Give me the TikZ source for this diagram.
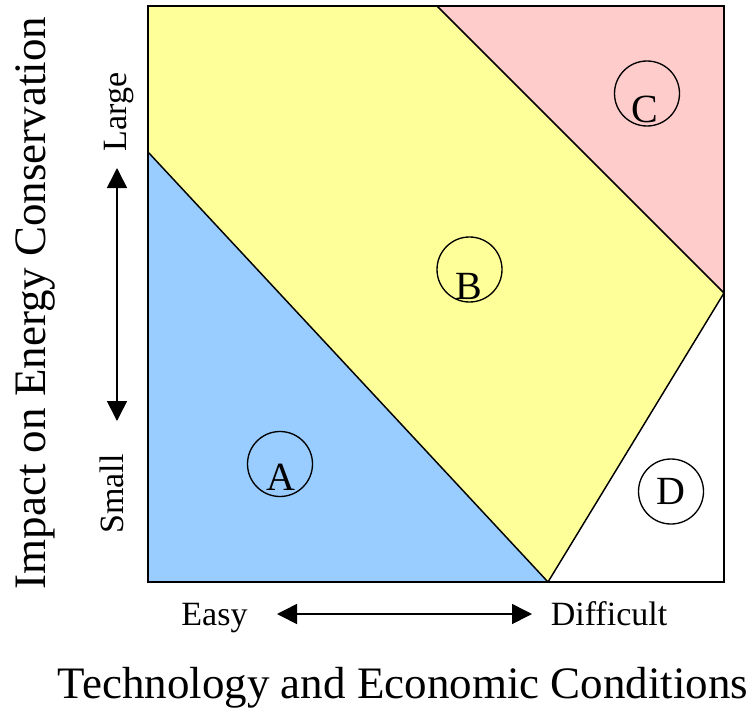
\documentclass[tikz,border=0pt]{standalone}
\usepackage{fontspec}
\setmainfont{Liberation Serif}
\usetikzlibrary{arrows.meta}
\definecolor{zoneA}{RGB}{153,204,255}
\definecolor{zoneB}{RGB}{255,255,153}
\definecolor{zoneC}{RGB}{255,204,204}
\tikzset{every picture/.style={line width=0.75pt},
  zone edge/.style={draw=black,line width=1.1pt},
  frame/.style={draw=black,line width=1.6pt},
  ring/.style={draw,circle,line width=1pt,minimum size=48.75pt,inner sep=0pt},
  letter/.style={font=\fontsize{30}{30}\selectfont,inner sep=0pt},
  axis label/.style={font=\fontsize{25.5}{25.5}\selectfont,inner sep=0pt},
  axis title/.style={font=\fontsize{33.75}{33.75}\selectfont,inner sep=0pt},
  both ways/.style={{Triangle[length=15pt,width=15pt]}-{Triangle[length=15pt,width=15pt]},line width=1.2pt}}

\begin{document}
\begin{tikzpicture}[x=0.75pt,y=0.75pt,yscale=-1,xscale=1]
\useasboundingbox (0,0) rectangle (756,710);

%Corners of the chart
\coordinate (tl) at (148,6);
\coordinate (tr) at (724,6);
\coordinate (br) at (724,582);
\coordinate (bl) at (148,582);
%Cut points of the zones
\coordinate (leftCut) at (148,152);
\coordinate (topCut) at (437,6);
\coordinate (rightCut) at (724,293);
\coordinate (bottomCut) at (548,582);

%Shape: Zones
\fill[zoneA] (leftCut) -- (bottomCut) -- (bl) -- cycle;
\fill[zoneB] (tl) -- (topCut) -- (rightCut) -- (bottomCut) -- (leftCut) -- cycle;
\fill[zoneC] (topCut) -- (tr) -- (rightCut) -- cycle;
\draw[zone edge] (leftCut) -- (bottomCut) -- (rightCut) -- (topCut);
\draw[frame] (tl) rectangle (br);

%Shape: Circles
\node[ring] (ringA) at (280,464) {};
\node[ring] (ringB) at (469.5,269.5) {};
\node[ring] (ringC) at (647,93.5) {};
\node[ring] (ringD) at (671,491.5) {};
% Text Node
\node[letter,anchor=base] (letterA) at (280.5,490) {A};
\node[letter,anchor=base] (letterB) at (469,299) {B};
\node[letter,anchor=base] (letterC) at (645,122) {C};
\node[letter] (letterD) at (ringD.center) {D};

%Shape: Arrows
\coordinate (upTip) at (117,168);
\coordinate (downTip) at (117,421);
\coordinate (leftTip) at (277,614);
\coordinate (rightTip) at (532,614);
\draw[both ways] (upTip) -- (downTip);
\draw[both ways] (leftTip) -- (rightTip);

% Text Node
\node[axis label,rotate=90,anchor=base] (large) at (126,112) {Large};
% Text Node
\node[axis label,rotate=90,anchor=base] (small) at (123,494) {Small};
% Text Node
\node[axis label,anchor=base] (easy) at (214.5,625) {Easy};
% Text Node
\node[axis label,anchor=base] (difficult) at (609,625) {Difficult};
% Text Node
\node[axis title,rotate=90,anchor=base] (impact) at (45,303) {Impact on Energy Conservation};
% Text Node
\node[axis title,anchor=base] (conditions) at (403,698) {Technology and Economic Conditions};
\end{tikzpicture}
\end{document}
